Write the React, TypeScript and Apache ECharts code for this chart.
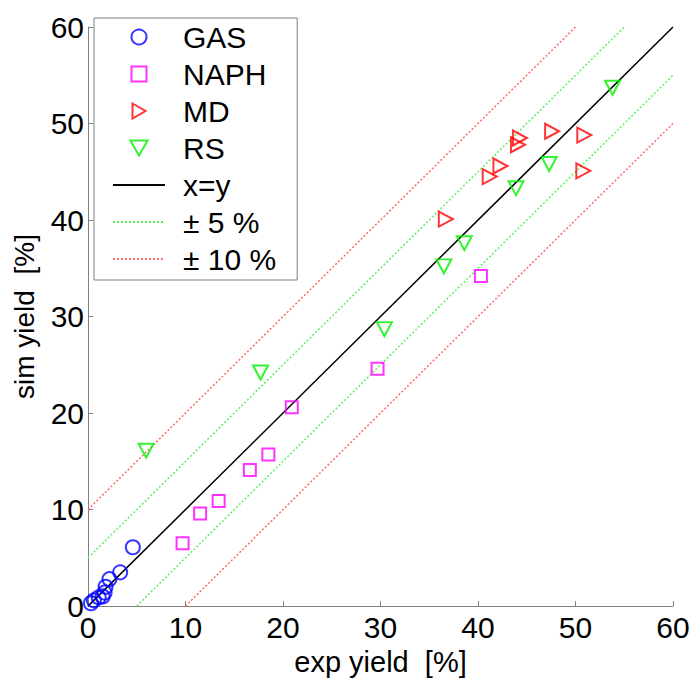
import React, { useEffect, useRef } from "react";
import * as echarts from "echarts";

const gasData = [[4.6, 6.1], [3.3, 3.5], [2.2, 2.8], [1.8, 2.0], [1.7, 1.4], [1.5, 1.0], [1.1, 0.9], [0.6, 0.6], [0.3, 0.3]];
const naphData = [[9.7, 6.5], [11.5, 9.6], [13.4, 10.9], [16.6, 14.1], [18.5, 15.7], [20.9, 20.6], [29.7, 24.6], [40.3, 34.2]];
const mdData = [[36.7, 40.1], [41.2, 44.5], [42.3, 45.6], [44.1, 47.8], [44.3, 48.5], [47.6, 49.2], [50.9, 48.8], [50.8, 45.1]];
const rsData = [[5.96, 16.1], [17.7, 24.2], [30.4, 28.7], [36.5, 35.2], [38.6, 37.6], [43.9, 43.3], [47.3, 45.8], [53.8, 53.7]];

const identityLine = [[0, 0], [60, 60]];
const plus5Line = [[0, 5], [55, 60]];
const minus5Line = [[5, 0], [60, 55]];
const plus10Line = [[0, 10], [50, 60]];
const minus10Line = [[10, 0], [60, 50]];

const legendNames = ["GAS", "NAPH", "MD", "RS", "x=y", "± 5 %", "± 10 %"];

const FONT = "'Liberation Sans', Arial, sans-serif";
const AXIS_GREY = "#808080";

export default function App() {
  const ref = useRef<HTMLDivElement>(null);
  useEffect(() => {
    if (!ref.current) return;
    const chart = echarts.init(ref.current, null, { renderer: "svg" });
    const hollow = (c: string) => ({ color: "rgba(0,0,0,0)", borderColor: c, borderWidth: 2 });
    const lineSeries = (name: string, data: number[][], color: string, type: any, width: number) => ({
      name,
      type: "line",
      data,
      symbol: "none",
      silent: true,
      lineStyle: { color, width, type },
      itemStyle: { color },
      z: 1,
    });
    const hiddenSymbol = { color: "rgba(0,0,0,0)", borderWidth: 0, opacity: 0 };
    chart.setOption({
      animation: false,
      backgroundColor: "#fff",
      grid: { left: 88, right: 22, top: 27, bottom: 69, containLabel: false },
      xAxis: {
        type: "value",
        min: 0,
        max: 60,
        interval: 10,
        name: "exp yield  [%]",
        nameLocation: "middle",
        nameGap: 36,
        nameTextStyle: { fontSize: 29, color: "#000", fontFamily: FONT },
        axisLine: { show: true, onZero: false, lineStyle: { color: AXIS_GREY, width: 1 } },
        axisTick: { show: true, inside: true, length: 5, lineStyle: { color: AXIS_GREY } },
        axisLabel: { fontSize: 30, color: "#000", fontFamily: FONT, margin: 6 },
        splitLine: { show: false },
      },
      yAxis: {
        type: "value",
        min: 0,
        max: 60,
        interval: 10,
        name: "sim yield  [%]",
        nameLocation: "middle",
        nameGap: 50,
        nameRotate: 90,
        nameTextStyle: { fontSize: 28, color: "#000", fontFamily: FONT },
        axisLine: { show: true, onZero: false, lineStyle: { color: AXIS_GREY, width: 1 } },
        axisTick: { show: true, inside: true, length: 5, lineStyle: { color: AXIS_GREY } },
        axisLabel: { fontSize: 30, color: "#000", fontFamily: FONT, margin: 4 },
        splitLine: { show: false },
      },
      legend: {
        orient: "vertical",
        left: 94,
        top: 18,
        itemWidth: 52,
        itemHeight: 15,
        itemGap: 7,
        padding: [4, 21, 6, 18],
        borderColor: AXIS_GREY,
        borderWidth: 1,
        backgroundColor: "#fff",
        textStyle: { fontSize: 30, color: "#000", fontFamily: FONT, padding: [0, 0, 0, 13] },
        data: [
          legendNames[0],
          legendNames[1],
          legendNames[2],
          legendNames[3],
          { name: legendNames[4], itemStyle: hiddenSymbol },
          { name: legendNames[5], itemStyle: hiddenSymbol },
          { name: legendNames[6], itemStyle: hiddenSymbol },
        ],
      },
      series: [
        lineSeries(legendNames[6], plus10Line, "#ff6a6a", [2, 2], 1.5),
        lineSeries(legendNames[6], minus10Line, "#ff6a6a", [2, 2], 1.5),
        lineSeries(legendNames[5], plus5Line, "#5ef05e", [2, 2], 1.5),
        lineSeries(legendNames[5], minus5Line, "#5ef05e", [2, 2], 1.5),
        lineSeries(legendNames[4], identityLine, "#000000", "solid", 1.5),
        {
          name: legendNames[0],
          type: "scatter",
          data: gasData,
          symbol: "circle",
          symbolSize: 14,
          itemStyle: hollow("#0000ff"),
          z: 3,
        },
        {
          name: legendNames[1],
          type: "scatter",
          data: naphData,
          symbol: "path://M0,0 L10,0 L10,10 L0,10 Z",
          symbolSize: 12,
          itemStyle: hollow("#ff00ff"),
          z: 3,
        },
        {
          name: legendNames[2],
          type: "scatter",
          data: mdData,
          symbol: "path://M0,0 L13,7.5 L0,15 Z",
          symbolSize: [14, 15],
          itemStyle: hollow("#ff0000"),
          z: 3,
        },
        {
          name: legendNames[3],
          type: "scatter",
          data: rsData,
          symbol: "path://M0,0 L15,0 L7.5,13 Z",
          symbolSize: [15, 14],
          itemStyle: hollow("#00f000"),
          z: 3,
        },
      ],
    });
    return () => chart.dispose();
  }, []);
  return (
    <div
      ref={ref}
      style={{ position: "fixed", left: 0, top: 0, width: 695, height: 681, background: "#fff" }}
    />
  );
}
